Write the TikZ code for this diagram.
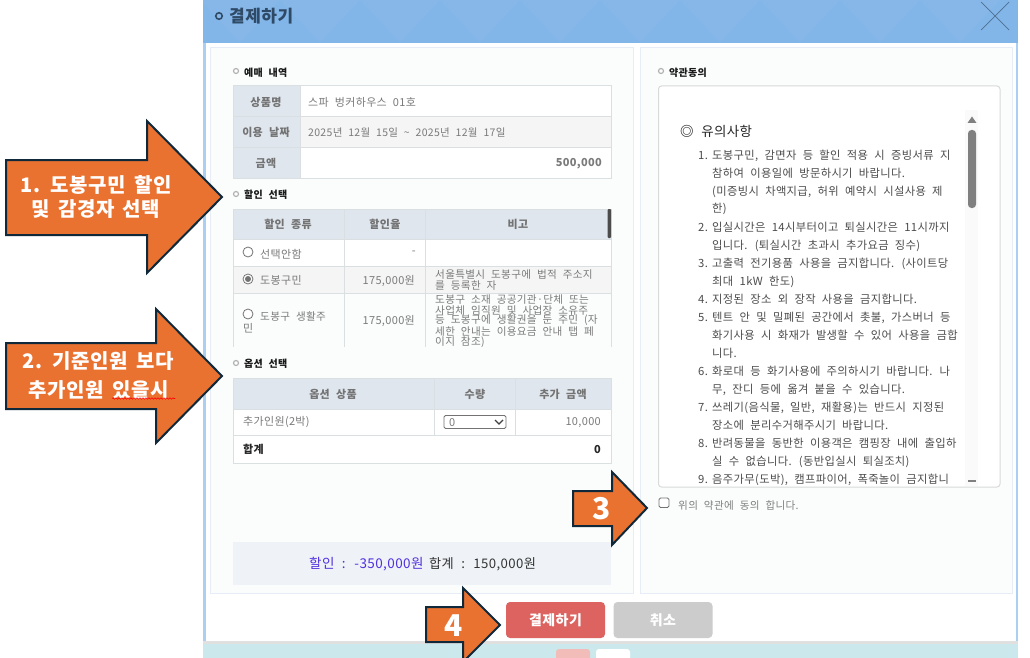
\documentclass[tikz,border=0pt]{standalone}
\usepackage{fontspec}
\usepackage{xcolor}
\setmainfont{Noto Sans CJK KR}[WordSpace=2.2,LetterSpace=3]
\newfontfamily\arrowfont{Noto Sans CJK KR}[WordSpace=1.6,LetterSpace=3]
\usetikzlibrary{decorations.pathmorphing}
\definecolor{headblue}{HTML}{82B5E8}
\definecolor{sideblue}{HTML}{ABCFF2}
\definecolor{titleink}{HTML}{2F4A66}
\definecolor{closeink}{HTML}{4F6F8F}
\definecolor{panelfill}{HTML}{FBFDFD}
\definecolor{paneledge}{HTML}{E6EDF6}
\definecolor{headcell}{HTML}{DFE6EE}
\definecolor{cellgrey}{HTML}{F5F5F5}
\definecolor{celledge}{HTML}{DADFE2}
\definecolor{bodytext}{HTML}{7A7A7A}
\definecolor{termtext}{HTML}{4C4C4C}
\definecolor{totalfill}{HTML}{EFF3F7}
\definecolor{totaldisc}{HTML}{5030E0}
\definecolor{payred}{HTML}{DD6360}
\definecolor{stripteal}{HTML}{CBE9ED}
\definecolor{strippink}{HTML}{F2BDB9}
\definecolor{callout}{HTML}{EA7231}
\definecolor{calloutedge}{HTML}{10293A}
\newcommand\nm[1]{\makebox[14pt][l]{#1}}
\begin{document}
\begin{tikzpicture}[x=1pt,y=-1pt]
        \tikzset{panel/.style={draw=paneledge,fill=panelfill,line width=1pt},
            cell/.style={draw=celledge,line width=1pt},
            headbox/.style={cell,fill=headcell},
            greybox/.style={cell,fill=cellgrey},
            whitebox/.style={cell,fill=white},
            txt/.style={font=\fontsize{11}{11}\selectfont,text=bodytext,inner sep=0pt,anchor=west,yshift=-.5pt},
            txtr/.style={txt,anchor=east},
            notetxt/.style={txt,font=\fontsize{10.6}{11}\selectfont},
            hdr/.style={font=\fontsize{11}{11}\selectfont\bfseries,text=black!55,inner sep=0pt,yshift=-.5pt},
            sect/.style={font=\fontsize{10}{11}\selectfont\bfseries,text=black!90,inner sep=0pt,anchor=west,yshift=-.7pt},
            term/.style={font=\fontsize{11.3}{11}\selectfont,text=termtext,inner sep=0pt,anchor=west,yshift=-.5pt},
            dotmark/.style={draw=black!30,line width=1.2pt,fill=white,circle,inner sep=0pt,minimum size=5pt},
            radio/.style={draw=black!55,line width=.8pt,fill=white,circle,inner sep=0pt,minimum size=10pt},
            callarrow/.style={draw=calloutedge,fill=callout,line width=2pt,miter limit=10},
            calltext/.style={font=\arrowfont\fontsize{20}{20}\selectfont\bfseries,text=white,inner sep=0pt},
            callnum/.style={font=\arrowfont\fontsize{30}{30}\selectfont\bfseries,text=white,inner sep=0pt},
            btn/.style={rounded corners=4pt,minimum width=99pt,minimum height=36pt,inner sep=0pt,
                text=white,font=\fontsize{14}{14}\selectfont\bfseries}}
        \useasboundingbox (0,0) rectangle (1030,658);
        \fill[white] (0,0) rectangle (1030,658);
        % window
        \fill[sideblue] (203,0) rectangle (1018,641);
        \fill[white] (206,43) rectangle (1016,641);
        \fill[headblue] (203,0) rectangle (1018,43);
        \foreach \xa in {240,320,...,1000}
            \fill[white,opacity=.035] (\xa,43) -- (\xa+40,0) -- (\xa-40,0) -- cycle;
        \fill[black!12] (203,641) rectangle (1018,644);
        \fill[stripteal] (203,644) rectangle (1018,658);
        \fill[strippink,rounded corners=3pt] (556,649) rectangle (590,662);
        \fill[white,rounded corners=3pt] (596,649) rectangle (630,662);
        \node[circle,draw=titleink,line width=1.6pt,inner sep=0pt,minimum size=6.5pt] (titledot) at (219,16) {};
        \node[font=\fontsize{17}{17}\selectfont\bfseries,text=titleink,inner sep=0pt,anchor=west] (title) at (229,16) {결제하기};
        \draw[closeink,line width=.7pt] (981,2) -- (1009,30) (1009,2) -- (981,30);
        % panels
        \draw[panel] (210,48) rectangle (633,593);
        \draw[panel] (640,48) rectangle (1012,593);
        % reservation
        \node[dotmark] (dotbook) at (236,71) {};
        \node[sect] (bookhead) at (244,72) {예매 내역};
        \draw[headbox] (233,86) rectangle (300,178);
        \draw[whitebox] (300,86) rectangle (611,117);
        \draw[greybox] (300,117) rectangle (611,147);
        \draw[whitebox] (300,147) rectangle (611,178);
        \draw[cell] (233,117) -- (300,117) (233,147) -- (300,147);
        \node[hdr] (bookname) at (266,102) {상품명};
        \node[hdr] (bookdate) at (266,132) {이용 날짜};
        \node[hdr] (bookcost) at (266,163) {금액};
        \node[txt] (namevalue) at (308,102) {스파 벙커하우스 01호};
        \node[txt,font=\fontsize{10.5}{11}\selectfont] (datevalue) at (308,132) {2025년 12월 15일 \textasciitilde{} 2025년 12월 17일};
        \node[txtr,font=\fontsize{11}{11}\selectfont\bfseries] (costvalue) at (602,163) {500,000};
        % discount
        \node[dotmark] (dotdisc) at (236,194) {};
        \node[sect] (dischead) at (244,194) {할인 선택};
        \draw[headbox] (233,209) rectangle (611,239);
        \draw[whitebox] (233,239) rectangle (611,266);
        \draw[greybox] (233,266) rectangle (611,293);
        \draw[cell] (233,293) -- (233,347) (611,293) -- (611,347) (344,209) -- (344,347) (425.5,209) -- (425.5,347);
        \fill[black!70,rounded corners=1pt] (607.5,209) rectangle (611,238);
        \node[hdr] (disckind) at (288,224) {할인 종류};
        \node[hdr] (discrate) at (385,224) {할인율};
        \node[hdr] (discnote) at (518,224) {비고};
        \node[radio] (radionone) at (248,252) {};
        \node[radio] (radiohome) at (248,279) {};
        \node[circle,fill=black!55,inner sep=0pt,minimum size=6pt] (radiodot) at (248,279) {};
        \node[radio] (radiolife) at (248,314) {};
        \node[txt] (kindnone) at (260,254) {선택안함};
        \node[txt] (kindhome) at (260,280) {도봉구민};
        \node[notetxt] (kindlife) at (260,316) {도봉구 생활주};
        \node[txt] (kindlifeb) at (243,328) {민};
        \node[txtr] (ratenone) at (416,252) {-};
        \node[txtr] (ratehome) at (415,280) {175,000원};
        \node[txtr] (ratelife) at (415,320) {175,000원};
        \node[notetxt] (notea) at (435,274) {서울특별시 도봉구에 법적 주소지};
        \node[notetxt] (noteb) at (435,285) {를 등록한 자};
        \begin{scope}
            \clip (426,293) rectangle (610,347);
            \node[notetxt] (notec) at (435,299) {도봉구 소재 공공기관·단체 또는};
            \node[notetxt] (noted) at (435,310) {사업체 임직원 및 사업장 소유주};
            \node[notetxt] (notee) at (435,320) {등 도봉구에 생활권을 둔 주민 (자};
            \node[notetxt] (notef) at (435,331) {세한 안내는 이용요금 안내 탭 페};
            \node[notetxt] (noteg) at (435,342) {이지 참조)};
        \end{scope}
        % options
        \node[dotmark] (dotopt) at (236,363) {};
        \node[sect] (opthead) at (244,363) {옵션 선택};
        \draw[headbox] (233,378) rectangle (611,409);
        \draw[whitebox] (233,409) rectangle (611,463);
        \draw[cell] (233,435.5) -- (611,435.5) (434,378) -- (434,435.5) (515.5,378) -- (515.5,435.5);
        \node[hdr] (optname) at (333,394) {옵션 상품};
        \node[hdr] (optqty) at (475,394) {수량};
        \node[hdr] (optcost) at (563,394) {추가 금액};
        \node[txt] (optrow) at (243,422) {추가인원(2박)};
        \draw[black!55,fill=white,rounded corners=1.5pt,line width=.8pt] (444,415.5) rectangle (506,428.5);
        \node[txt] (optzero) at (449,422) {0};
        \draw[black!75,line width=1.2pt] (495,420) -- (499,424) -- (503,420);
        \node[txtr] (optprice) at (601,422) {10,000};
        \node[txt,font=\fontsize{11}{11}\selectfont\bfseries,text=black!85] (sumlabel) at (243,449) {합계};
        \node[txtr,font=\fontsize{11}{11}\selectfont\bfseries,text=black!85] (sumvalue) at (601,449) {0};
        % total
        \fill[totalfill] (233,542) rectangle (611,585);
        \node[txt,font=\fontsize{13.5}{13}\selectfont,text=totaldisc] (totaldisc) at (309,564) {할인 : -350,000원};
        \node[txt,font=\fontsize{13.2}{13}\selectfont,text=black!80] (totalsum) at (429,564) {합계 : 150,000원};
        % terms
        \node[dotmark] (dotterm) at (661,71) {};
        \node[sect] (termhead) at (669,72) {약관동의};
        \draw[black!15,fill=white,rounded corners=3pt,line width=1pt] (658.5,86) rectangle (1000,487);
        \fill[black!2] (965,110) rectangle (978,486);
        \fill[black!50] (972,116.5) -- (976.5,123) -- (967.5,123) -- cycle;
        \fill[black!50,rounded corners=3.5pt] (968,130) rectangle (976,208);
        \fill[black!50] (968,480) rectangle (976,482);
        \node[font=\fontsize{13.5}{14}\selectfont,text=black!85,inner sep=0pt,anchor=west] (termtitle) at (680,131) {{\bfseries ◎} 유의사항};
        \begin{scope}
            \clip (690,140) rectangle (964,484);
            \foreach \ya/\xa/\ta in {
                155/698/{\nm{1.}도봉구민, 감면자 등 할인 적용 시 증빙서류 지},
                173/712/{참하여 이용일에 방문하시기 바랍니다.},
                191/712/{(미증빙시 차액지급, 허위 예약시 시설사용 제},
                208/712/{한)},
                227/698/{\nm{2.}입실시간은 14시부터이고 퇴실시간은 11시까지},
                245/712/{입니다. (퇴실시간 초과시 추가요금 징수)},
                263/698/{\nm{3.}고출력 전기용품 사용을 금지합니다. (사이트당},
                281/712/{최대 1kW 한도)},
                299/698/{\nm{4.}지정된 장소 외 장작 사용을 금지합니다.},
                317/698/{\nm{5.}텐트 안 및 밀폐된 공간에서 촛불, 가스버너 등},
                335/712/{화기사용 시 화재가 발생할 수 있어 사용을 금합},
                353/712/{니다.},
                371/698/{\nm{6.}화로대 등 화기사용에 주의하시기 바랍니다. 나},
                389/712/{무, 잔디 등에 옮겨 붙을 수 있습니다.},
                407/698/{\nm{7.}쓰레기(음식물, 일반, 재활용)는 반드시 지정된},
                425/712/{장소에 분리수거해주시기 바랍니다.},
                443/698/{\nm{8.}반려동물을 동반한 이용객은 캠핑장 내에 출입하},
                461/712/{실 수 없습니다. (동반입실시 퇴실조치)},
                479/698/{\nm{9.}음주가무(도박), 캠프파이어, 폭죽놀이 금지합니}}
                \node[term] (line\ya) at (\xa,\ya) {\ta};
        \end{scope}
        \draw[black!55,fill=white,rounded corners=1.5pt,line width=.8pt] (659,498) rectangle (669,507.5);
        \node[notetxt,text=black!50] (agree) at (678,505) {위의 약관에 동의 합니다.};
        % buttons
        \node[btn,fill=payred] (pay) at (555.5,620) {결제하기};
        \node[btn,fill=black!20] (cancel) at (663,620) {취소};
        % callouts
        \draw[callarrow] (6,160) -- (147,160) -- (147,121) -- (222,197) -- (147,273) -- (147,235) -- (6,235) -- cycle;
        \node[calltext] (callonea) at (96,185) {1. 도봉구민 할인};
        \node[calltext] (calloneb) at (96,209) {및 감경자 선택};
        \draw[callarrow] (6,343) -- (156,343) -- (156,309) -- (222,376) -- (156,443) -- (156,409) -- (6,409) -- cycle;
        \node[calltext] (calltwoa) at (98,361) {2. 기준인원 보다};
        \node[calltext] (calltwob) at (99,390) {추가인원 있을시};
        \draw[red,line width=.6pt,decorate,decoration={snake,amplitude=.7pt,segment length=3pt}] (112,398.5) -- (175,398.5);
        \draw[callarrow] (573,491) -- (612,491) -- (612,472) -- (647,508) -- (612,545) -- (612,526) -- (573,526) -- cycle;
        \node[callnum] (callthree) at (602,509) {3};
        \draw[callarrow] (426,607) -- (463,607) -- (463,588) -- (500,625) -- (463,662) -- (463,642) -- (426,642) -- cycle;
        \node[callnum] (callfour) at (454,626) {4};
    \end{tikzpicture}
\end{document}
